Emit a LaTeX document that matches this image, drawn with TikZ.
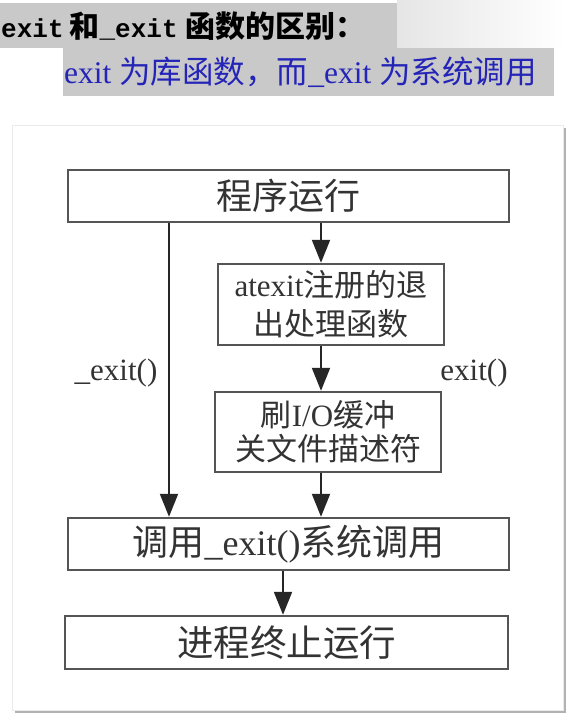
\documentclass[tikz,border=0pt]{standalone}
\usepackage{fontspec}
\setmainfont{Liberation Serif}
\newfontfamily\cjk{Noto Sans CJK SC}
\newfontfamily\monob{Liberation Mono}
\usetikzlibrary{arrows.meta}
\definecolor{ink}{HTML}{333333}
\definecolor{edge}{HTML}{555555}
\definecolor{band}{HTML}{C9C9C9}
\definecolor{note}{HTML}{2424B8}
\newcommand\zhtxt[1]{{\cjk #1}}
\newcommand\ttb[1]{{\monob\bfseries\fontsize{26}{30}\selectfont #1}}
\newcommand\zhb[1]{{\cjk\bfseries\fontsize{30}{30}\selectfont #1}}
\begin{document}
\begin{tikzpicture}[x=1pt,y=-1pt,
  box/.style={draw=edge,line width=2.4pt,fill=white,inner sep=0pt,text=ink,align=center},
  arr/.style={draw=black!85,line width=2pt,-{Triangle[width=18pt,length=23pt]}},
  lbl/.style={text=ink,inner sep=0pt,font=\fontsize{31}{36}\selectfont}]
\useasboundingbox (0,0) rectangle (566,715);
\fill[white] (0,0) rectangle (566,715);
% heading bands
\shade[left color=black!10,right color=white] (397,0) rectangle (566,48);
\fill[band] (0,3) rectangle (397,48);
\fill[band] (63,48) rectangle (554,96);
\node[anchor=west,inner sep=0pt] (title) at (1,26)
  {\ttb{exit}\hspace{6pt}\zhb{和}\ttb{\_exit}\hspace{8pt}\zhb{函数的区别：}};
\node[anchor=west,inner sep=0pt,text=note,font=\fontsize{31.5}{34}\selectfont] (subtitle) at (64,72)
  {exit \zhtxt{为库函数，而}\_exit \zhtxt{为系统调用}};
% panel with shadow
\fill[black!30] (15,128) rectangle (566,713);
\draw[black!8,fill=white] (12,125) rectangle (563,710);
% flow boxes
\node[box,minimum width=441pt,minimum height=52pt,font=\cjk\fontsize{36}{40}\selectfont] (run) at (288.5,196) {程序运行};
\node[box,minimum width=226pt,minimum height=81pt,font=\fontsize{31}{39}\selectfont] (reg) at (331,304.5)
  {atexit\zhtxt{注册的退}\\\zhtxt{出处理函数}};
\node[box,minimum width=226pt,minimum height=80pt,font=\fontsize{31}{34}\selectfont] (flush) at (328,432)
  {\zhtxt{刷}I/O\zhtxt{缓冲}\\\zhtxt{关文件描述符}};
\node[box,minimum width=441pt,minimum height=52pt,font=\fontsize{36}{40}\selectfont] (sys) at (288.5,544)
  {\zhtxt{调用}\_exit()\zhtxt{系统调用}};
\node[box,minimum width=443pt,minimum height=53pt,font=\cjk\fontsize{36.5}{40}\selectfont] (end) at (286.5,642.5) {进程终止运行};
% path labels
\node[lbl] (lexit) at (116,373) {\_exit()};
\node[lbl] (rexit) at (474,373) {exit()};
% connectors
\coordinate (lx) at (169,0);
\coordinate (mx) at (321,0);
\coordinate (bx) at (283,0);
\draw[arr] (run.south -| lx) -- (sys.north -| lx);
\draw[arr] (run.south -| mx) -- (reg.north -| mx);
\draw[arr] (reg.south -| mx) -- (flush.north -| mx);
\draw[arr] (flush.south -| mx) -- (sys.north -| mx);
\draw[arr] (sys.south -| bx) -- (end.north -| bx);
\end{tikzpicture}
\end{document}
